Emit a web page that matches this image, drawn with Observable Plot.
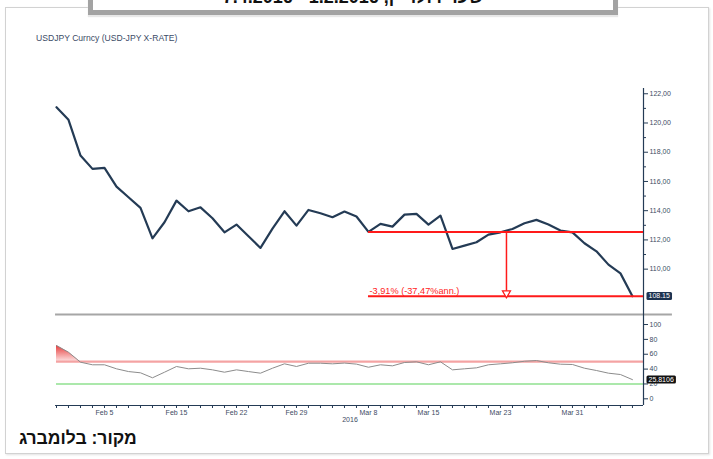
<!DOCTYPE html>
<html>
<head>
<meta charset="utf-8">
<script src="https://cdn.jsdelivr.net/npm/d3@7"></script>
<script src="https://cdn.jsdelivr.net/npm/@observablehq/plot@0.6"></script>
<style>
  body { margin: 0; background: #fff; }
  #page { position: relative; width: 713px; height: 459px; overflow: hidden; font-family: 'Liberation Sans', Arial, 'DejaVu Sans', sans-serif; }
  .card { position: absolute; left: 5px; top: 7px; width: 702px; height: 445px; border: 1px solid #d2d2d2; box-shadow: 1px 1px 2px #e2e2e2; background: #fff; }
  .topbox { position: absolute; left: 88px; top: -30px; width: 530px; height: 45px; box-sizing: border-box; border: 5px solid #a3a3a3; background: #fff; box-shadow: 0 2px 1px #e8e8e8; }
  .topbox span { position: absolute; left: 0; right: 0; bottom: 4px; text-align: center; font-size: 18px; line-height: 18px; font-weight: bold; color: #111; direction: rtl; }
  .title { position: absolute; left: 36px; top: 33px; font-size: 8.6px; color: #3b4b66; white-space: nowrap; }
  #upper { position: absolute; left: 0; top: 80px; }
  #lower { position: absolute; left: 0; top: 316px; }
  .source { position: absolute; left: 19px; top: 428px; font-size: 17.5px; font-weight: bold; color: #111; direction: rtl; white-space: nowrap; }
</style>
</head>
<body>
<div id="page">
  <div class="card"></div>
  <div class="topbox"><span>שער דולר-ין, 1.2.2016 - 7.4.2016</span></div>
  <div class="title">USDJPY Curncy (USD-JPY X-RATE)</div>
  <div id="upper"></div>
  <div id="lower"></div>
  <div class="source">מקור: בלומברג</div>
</div>
<script>
// ---- data (trading days 1 Feb 2016 – 7 Apr 2016) ----
const usdjpy = [121.08, 120.22, 117.77, 116.86, 116.93, 115.65, 114.92, 114.19, 112.11, 113.21,
                114.69, 113.96, 114.23, 113.48, 112.52, 113.05, 112.25, 111.45, 112.77, 113.96,
                112.98, 114.05, 113.82, 113.55, 113.94, 113.60, 112.55, 113.10, 112.91, 113.73,
                113.78, 113.05, 113.66, 111.38, 111.61, 111.84, 112.36, 112.52, 112.75, 113.14,
                113.37, 113.05, 112.64, 112.52, 111.77, 111.22, 110.31, 109.71, 108.15];
const rsi = [71.7, 62.7, 49.3, 45.8, 45.8, 40.4, 36.7, 35.0, 28.3, 35.8,
             43.5, 40.4, 41.2, 39.0, 35.8, 39.0, 36.7, 34.5, 41.2, 47.1,
             43.5, 47.9, 47.9, 47.1, 48.1, 46.7, 42.5, 45.8, 44.4, 48.9,
             49.8, 45.8, 49.8, 39.0, 40.4, 41.7, 45.8, 47.1, 48.5, 50.6,
             51.5, 48.5, 46.6, 46.2, 41.2, 38.1, 34.5, 32.7, 25.8106];
const tickIndex = [4, 10, 15, 20, 26, 31, 37, 43];
const tickLabels = ["Feb 5", "Feb 15", "Feb 22", "Feb 29", "Mar 8", "Mar 15", "Mar 23", "Mar 31"];
const yearLabel = ["2016"];
const priceTicks = [110, 112, 114, 116, 118, 120, 122];
const priceMinorTicks = [111, 113, 115, 117, 119, 121];
const rsiTicks = [0, 20, 40, 60, 80, 100];
const rsiUpper = [50];
const rsiLower = [20];
// annotation: fall from 112.55 (Mar 8 level) to 108.15
const annStartIndex = 26;
const annArrowIndex = 37.5;
const annLevels = [112.55, 108.15];
const annText = ["-3,91% (-37,47%ann.)"];
const lastPriceLabel = ["108.15"];
const lastRsiLabel = ["25.8106"];

// ---- styling ----
const navy = "#243b55";
const axisText = "#3d4b63";
const red = "#ff1a1a";
const font = "'Liberation Sans Narrow','Liberation Sans',Arial,sans-serif";
const xDomain = [0, 48.92];
const priceData = usdjpy.map((v, i) => ({i, v}));
const rsiData = rsi.map((v, i) => ({i, v}));
const n = usdjpy.length;
const labelMap = new Map(tickIndex.map((d, k) => [d, tickLabels[k]]));
const sepExtent = [-0.08, 51.33];

function boxLabels(svg, label, fill) {
  d3.select(svg).selectAll(`g[aria-description="${label}"] text`).each(function () {
    const b = this.getBBox();
    const r = document.createElementNS("http://www.w3.org/2000/svg", "rect");
    r.setAttribute("x", b.x - 2);
    r.setAttribute("y", b.y - 0.5);
    r.setAttribute("width", b.width + 4);
    r.setAttribute("height", b.height + 1);
    r.setAttribute("rx", 1.5);
    r.setAttribute("fill", fill);
    const t = this.getAttribute("transform");
    if (t) r.setAttribute("transform", t);
    this.parentNode.insertBefore(r, this);
  });
}

// ---- upper panel: price ----
const yUpper = [106.76, 122.36];
const upper = Plot.plot({
  width: 713, height: 236,
  marginLeft: 56, marginRight: 70, marginTop: 8, marginBottom: 0,
  x: {domain: xDomain, axis: null},
  y: {domain: yUpper, axis: null},
  style: {fontFamily: font, background: "transparent", overflow: "visible"},
  marks: [
    Plot.ruleY([106.9], {x1: sepExtent[0], x2: sepExtent[1], stroke: "#a6a6a6", strokeWidth: 2}),
    Plot.ruleX([xDomain[1]], {stroke: navy, strokeWidth: 1.2}),
    Plot.axisY({anchor: "right", ticks: priceTicks, tickSize: 4, tickPadding: 2, fontSize: 7,
      tickFormat: d => d.toFixed(2).replace(".", ","), stroke: navy, fill: axisText, label: null}),
    Plot.axisY({anchor: "right", ticks: priceMinorTicks, tickSize: 2, tickFormat: () => "", stroke: navy, label: null}),
    Plot.line(priceData, {x: "i", y: "v", stroke: navy, strokeWidth: 2.2, strokeLinejoin: "round"}),
    Plot.ruleY(annLevels, {x1: annStartIndex, x2: xDomain[1], stroke: red, strokeWidth: 2}),
    Plot.ruleX([annArrowIndex], {y1: annLevels[0], y2: annLevels[1], stroke: red, strokeWidth: 1.5}),
    Plot.dot([annArrowIndex], {x: d => d, y: annLevels[1], symbol: "triangle", rotate: 180, r: 3, dy: -3,
      stroke: red, fill: "#fff", strokeWidth: 1.2}),
    Plot.text(annText, {x: annStartIndex, y: annLevels[1], text: d => d, textAnchor: "start", lineAnchor: "bottom",
      dx: 1, dy: -2, fill: red, fontSize: 9.2, fontFamily: "'Liberation Sans',Arial,sans-serif"}),
    Plot.text(lastPriceLabel, {x: xDomain[1], y: usdjpy[n - 1], text: d => d, textAnchor: "start", dx: 5,
      fill: "#fff", fontSize: 7, ariaDescription: "lastprice"})
  ]
});
document.getElementById("upper").appendChild(upper);
boxLabels(upper, "lastprice", "#1d3350");

// ---- lower panel: RSI ----
const yLower = [-9.0, 110.8];
const lower = Plot.plot({
  width: 713, height: 112,
  marginLeft: 56, marginRight: 70, marginTop: 0, marginBottom: 23,
  x: {domain: xDomain, axis: null},
  y: {domain: yLower, axis: null},
  style: {fontFamily: font, background: "transparent", overflow: "visible"},
  marks: [
    Plot.areaY(rsiData, {x: "i", y1: rsiUpper[0], y2: d => Math.max(d.v, rsiUpper[0]), fill: "url(#rsiFill)"}),
    Plot.ruleY(rsiUpper, {stroke: "#f4a3a3", strokeWidth: 2.2}),
    Plot.ruleY(rsiLower, {stroke: "#8fe08f", strokeWidth: 1.5}),
    Plot.line(rsiData, {x: "i", y: "v", stroke: "#8c8c8c", strokeWidth: 1}),
    Plot.ruleX([xDomain[1]], {stroke: navy, strokeWidth: 1.2}),
    Plot.ruleY([yLower[0]], {x1: sepExtent[0], x2: xDomain[1], stroke: navy, strokeWidth: 1.2}),
    Plot.axisY({anchor: "right", ticks: rsiTicks, tickSize: 4, tickPadding: 2, fontSize: 7,
      tickFormat: d => String(d), stroke: navy, fill: axisText, label: null}),
    Plot.axisX({anchor: "bottom", ticks: d3.range(n), tickSize: 3, tickPadding: 2, fontSize: 7,
      tickFormat: i => labelMap.get(i) ?? "", stroke: navy, fill: axisText, label: null}),
    Plot.text(yearLabel, {x: (xDomain[0] + xDomain[1]) / 2, frameAnchor: "bottom", text: d => d,
      dy: 16, fontSize: 7, fill: axisText}),
    Plot.text(lastRsiLabel, {x: xDomain[1], y: rsi[n - 1], text: d => d, textAnchor: "start", dx: 5,
      fill: "#fff", fontSize: 7, ariaDescription: "lastrsi"})
  ]
});
const defs = d3.select(lower).insert("defs", ":first-child");
const grad = defs.append("linearGradient").attr("id", "rsiFill")
  .attr("x1", 0).attr("y1", 0).attr("x2", 0).attr("y2", 1);
grad.append("stop").attr("offset", "0%").attr("stop-color", "#e63c3c");
grad.append("stop").attr("offset", "100%").attr("stop-color", "#fde0e0");
document.getElementById("lower").appendChild(lower);
boxLabels(lower, "lastrsi", "#111");
</script>
</body>
</html>
